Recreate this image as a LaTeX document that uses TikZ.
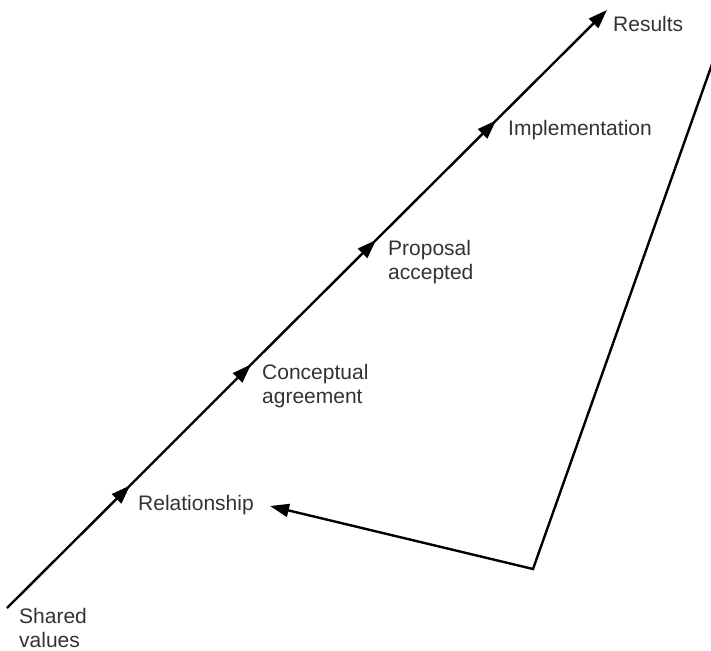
\documentclass[tikz,border=0pt]{standalone}
\usepackage{fontspec}
\setmainfont{Liberation Sans}
\usetikzlibrary{arrows.meta}
\usetikzlibrary{calc}

\begin{document}
\begin{tikzpicture}[line width=1.2pt, x=0.5pt, y=-0.5pt,
		label/.style={inner sep=0pt, anchor=base west, align=left, text=black!80, font=\fontsize{10.5}{12}\selectfont},
		tip/.style={-{Triangle[length=9.5pt,width=6.5pt]}},
		cont/.style={tip, shorten <=-6pt}]
			\useasboundingbox (0,0) rectangle (711,651);
			\clip (0,0) rectangle (711,651);
			% stages along the diagonal
			\coordinate (Start) at (7,608);
			\coordinate (Rel) at (130,485.5);
			\coordinate (Concept) at (251,364.5);
			\coordinate (Accept) at (376,240);
			\coordinate (Impl) at (496,120.5);
			\coordinate (Res) at (607,10);
			\node [label] (SharedTxt) at (18,647) {Shared\\values};
			\node [label] (RelTxt) at (137,510) {Relationship};
			\node [label] (ConceptTxt) at (261,404) {Conceptual\\agreement};
			\node [label] (AcceptTxt) at (387,280) {Proposal\\accepted};
			\node [label] (ImplTxt) at (507,136) {Implementation};
			\node [label] (ResTxt) at (612,32) {Results};
			\draw[tip] (Start) -- (Rel);
			\draw[cont] (Rel) -- (Concept);
			\draw[cont] (Concept) -- (Accept);
			\draw[cont] (Accept) -- (Impl);
			\draw[cont] (Impl) -- (Res);
			% feedback loop
			\coordinate (Back) at (722,36);
			\coordinate (Turn) at (533,569);
			\coordinate (RelIn) at (270,506);
			\draw[tip] (Back) -- (Turn) -- (RelIn);
		\end{tikzpicture}
\end{document}
